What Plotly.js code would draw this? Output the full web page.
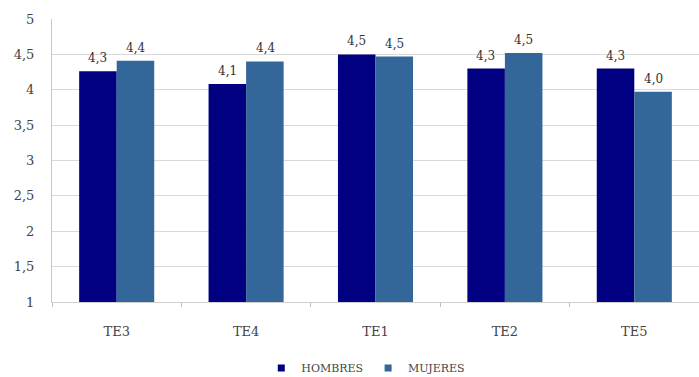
<!DOCTYPE html>
<html>
<head>
<meta charset="utf-8">
<script src="https://cdn.plot.ly/plotly-3.0.1.min.js"></script>
<style>
  html, body { margin: 0; padding: 0; background: #ffffff; }
  #chart { width: 699px; height: 377px; }
</style>
</head>
<body>
<div id="chart"></div>
<script>
// Categories and mean scores per group
const categories = ['TE3', 'TE4', 'TE1', 'TE2', 'TE5'];
const hombres = [4.26, 4.08, 4.50, 4.30, 4.30];
const mujeres = [4.41, 4.40, 4.47, 4.52, 3.97];
const yTicks = [1, 1.5, 2, 2.5, 3, 3.5, 4, 4.5, 5];

const serif = 'DejaVu Serif, Liberation Serif, serif';
const colHombres = '#000080';
const colMujeres = '#336699';
const barHalf = 19; // pixel offset of each bar centre from its category centre

const traces = [
  { type: 'bar', name: 'HOMBRES', x: categories, y: hombres,
    marker: { color: colHombres }, showlegend: false, hoverinfo: 'skip' },
  { type: 'bar', name: 'MUJERES', x: categories, y: mujeres,
    marker: { color: colMujeres }, showlegend: false, hoverinfo: 'skip' },
  // legend keys with small square swatches
  { type: 'scatter', mode: 'markers', name: 'HOMBRES', x: [null], y: [null],
    marker: { symbol: 'square', size: 7, color: colHombres } },
  { type: 'scatter', mode: 'markers', name: 'MUJERES', x: [null], y: [null],
    marker: { symbol: 'square', size: 7, color: colMujeres } }
];

// value labels above each bar, formatted with a decimal comma
function valueLabels(values, shift) {
  return values.map((v, i) => ({
    x: categories[i], y: v, xref: 'x', yref: 'y',
    text: v.toFixed(1).replace('.', ','),
    showarrow: false, xshift: shift, yshift: 4, yanchor: 'bottom',
    font: { family: serif, size: 12, color: '#333333' }
  }));
}

const layout = {
  width: 699, height: 377,
  margin: { l: 52, r: 0, t: 19, b: 75, autoexpand: false },
  paper_bgcolor: '#ffffff', plot_bgcolor: '#ffffff',
  separators: ',.',
  barmode: 'group', bargap: 0.42, bargroupgap: 0,
  font: { family: serif, size: 12, color: '#444444' },
  showlegend: true,
  legend: {
    orientation: 'h', x: 0.485, xanchor: 'center', y: -0.233, yanchor: 'middle',
    font: { family: serif, size: 11, color: '#444444' },
    itemwidth: 30, traceorder: 'normal'
  },
  annotations: valueLabels(hombres, -barHalf).concat(valueLabels(mujeres, barHalf)),
  xaxis: {
    type: 'category',
    showgrid: false, zeroline: false,
    showline: true, linecolor: '#d0d0d0', linewidth: 1,
    ticks: 'outside', tickson: 'boundaries', ticklen: 4, tickcolor: '#c0c0c0',
    ticklabelstandoff: 17,
    tickfont: { family: serif, size: 13, color: '#444444' }
  },
  yaxis: {
    range: [1, 5], tickvals: yTicks,
    tickformat: '.1~f',
    showgrid: true, gridcolor: '#d9d9d9', gridwidth: 1,
    zeroline: false,
    showline: true, linecolor: '#c8c8c8', linewidth: 1,
    ticks: '', ticklen: 0,
    ticklabelstandoff: 14,
    tickfont: { family: serif, size: 13, color: '#444444' }
  }
};

Plotly.newPlot('chart', traces, layout, { displayModeBar: false, staticPlot: true });
</script>
</body>
</html>
